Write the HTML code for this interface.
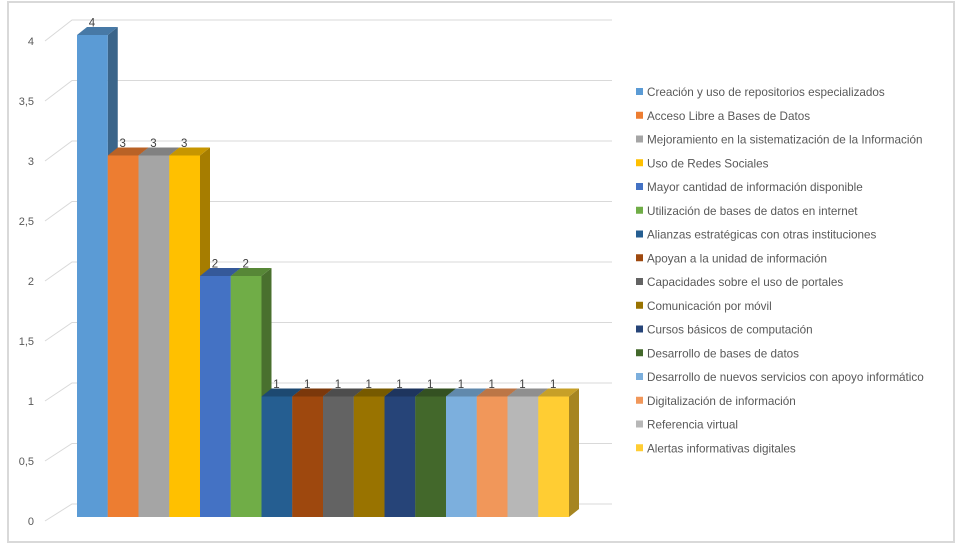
<!DOCTYPE html>
<html><head><meta charset="utf-8"><style>
body{margin:0;background:#fff;}
svg text{font-family:"Liberation Sans",sans-serif;}
</style></head><body>
<svg width="956" height="546" viewBox="0 0 956 546">
<rect x="8" y="2" width="946" height="540" fill="#fff" stroke="#d9d9d9" stroke-width="2"/>
<g id="grid"></g><g id="bars"></g><g id="labels"></g><g id="legend"></g>
</svg>
<script>
const categories=["Creación y uso de repositorios especializados","Acceso Libre a Bases de Datos","Mejoramiento en la sistematización de la Información","Uso de Redes Sociales","Mayor cantidad de información disponible","Utilización de bases de datos en internet","Alianzas estratégicas con otras instituciones","Apoyan a la unidad de información","Capacidades sobre el uso de portales","Comunicación por móvil","Cursos básicos de computación","Desarrollo de bases de datos","Desarrollo de nuevos servicios con apoyo informático","Digitalización de información","Referencia virtual","Alertas informativas digitales"];
const values=[4,3,3,3,2,2,1,1,1,1,1,1,1,1,1,1];
const ticks=[0,0.5,1,1.5,2,2.5,3,3.5,4];
const tickLabels=["0","0,5","1","1,5","2","2,5","3","3,5","4"];
const colors=["#5b9bd5","#ed7d31","#a5a5a5","#ffc000","#4472c4","#70ad47","#255e91","#9e480e","#636363","#997300","#264478","#43682b","#7cafdd","#f1975a","#b7b7b7","#ffcd33"];
const NS="http://www.w3.org/2000/svg";
function mk(t,a,p){const e=document.createElementNS(NS,t);for(const k in a)e.setAttribute(k,a[k]);p.appendChild(e);return e;}
function shade(c,f){const n=parseInt(c.slice(1),16);const r=Math.round((n>>16&255)*f),g=Math.round((n>>8&255)*f),b=Math.round((n&255)*f);return "rgb("+r+","+g+","+b+")";}
const yFront=v=>517-120.5*v, yBack=v=>504-121*v, yLab=v=>521-120*v;
const x0=77,bw=30.75,dx=10,dy=8;
const xBar=i=>x0+i*bw;
const grid=document.getElementById('grid');
ticks.forEach((t,i)=>{
  const l=mk('polyline',{points:`45,${yLab(t)} 72,${yBack(t)} 612,${yBack(t)}`,fill:'none',stroke:'#d9d9d9','stroke-width':1},grid);
  
  
  const tx=mk('text',{x:34,y:yLab(t)+4,'text-anchor':'end','font-size':11,fill:'#595959'},grid);
  tx.textContent=tickLabels[i];
  
  
});
const bars=document.getElementById('bars');
const labels=document.getElementById('labels');
values.forEach((v,i)=>{
  const x=xBar(i),yt=yFront(v),yb=yFront(0),c=colors[i];
  const g=mk('g',{},bars);
  
  
  mk('polygon',{points:`${x+bw},${yt} ${x+bw+dx},${yt-dy} ${x+bw+dx},${yb-dy} ${x+bw},${yb}`,fill:shade(c,0.65)},g);
  mk('polygon',{points:`${x},${yt} ${x+dx},${yt-dy} ${x+bw+dx},${yt-dy} ${x+bw},${yt}`,fill:shade(c,0.78)},g);
  mk('rect',{x:x,y:yt,width:bw,height:yb-yt,fill:c},g);
  const tx=mk('text',{x:x+15,y:yt-dy-0.5,'text-anchor':'middle','font-size':11.5,fill:'#404040'},labels);
  tx.textContent=String(v);
  
  
});
const lg=document.getElementById('legend');
categories.forEach((c,i)=>{
  const y=92+i*23.75;
  const g=mk('g',{},lg);
  
  
  mk('rect',{x:636,y:y-4,width:7,height:7,fill:colors[i]},g);
  const t=mk('text',{x:647,y:y+4,'font-size':11.7,fill:'#595959'},g);
  t.textContent=c;
});
</script>
</body></html>
